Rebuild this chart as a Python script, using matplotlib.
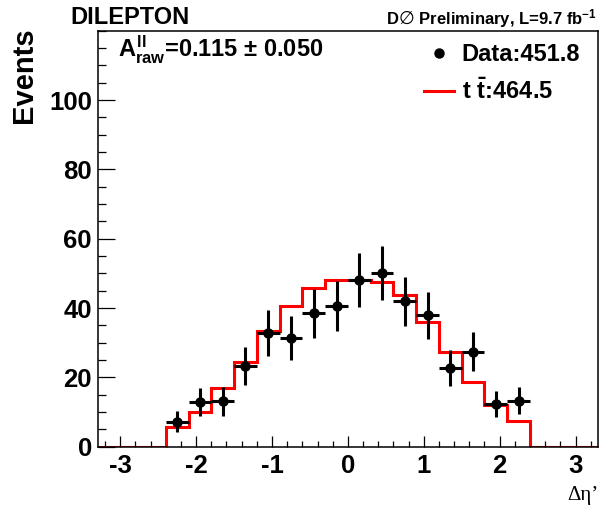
import numpy as np
import matplotlib
matplotlib.use("Agg")
import matplotlib.pyplot as plt
from matplotlib.lines import Line2D
from matplotlib.ticker import MultipleLocator

plt.rcParams['font.family'] = ['Liberation Sans', 'DejaVu Sans']
plt.rcParams['mathtext.fontset'] = 'custom'
plt.rcParams['mathtext.rm'] = 'Liberation Sans:bold'
plt.rcParams['mathtext.it'] = 'Liberation Sans:bold'
plt.rcParams['mathtext.bf'] = 'Liberation Sans:bold'

# ---- data ----
bin_edges = [-3.3, -3.0, -2.7, -2.4, -2.1, -1.8, -1.5, -1.2, -0.9, -0.6, -0.3, 0.0,
             0.3, 0.6, 0.9, 1.2, 1.5, 1.8, 2.1, 2.4, 2.7, 3.0, 3.3]
ttbar_values = [0, 0, 0, 5.8, 9.9, 16.8, 24.3, 33.3, 40.7, 45.8, 48.0,
                48.2, 47.6, 43.8, 35.9, 27.2, 18.8, 12.0, 7.3, 0, 0, 0]
data_x = [-2.25, -1.95, -1.65, -1.35, -1.05, -0.75, -0.45, -0.15,
          0.15, 0.45, 0.75, 1.05, 1.35, 1.65, 1.95, 2.25]
data_y = [7.2, 12.9, 13.1, 23.3, 32.8, 31.4, 38.5, 40.5,
          48.0, 50.1, 41.9, 37.9, 22.6, 27.4, 12.4, 13.3]
data_err = [3.1, 3.9, 4.2, 5.4, 6.5, 6.4, 7.05, 7.2,
            7.8, 7.8, 7.1, 6.8, 5.2, 5.6, 3.8, 4.0]
half_bin = 0.15
xticks = [-3, -2, -1, 0, 1, 2, 3]
yticks = [0, 20, 40, 60, 80, 100]

W, H = 610, 513
fig = plt.figure(figsize=(W / 100, H / 100), dpi=100)
ax = fig.add_axes([97.5 / W, 1 - 446.7 / H, (598.3 - 97.5) / W, (446.7 - 30.7) / H])

ax.stairs(ttbar_values, bin_edges, color='#ff0000', lw=2.2, zorder=2)
ax.errorbar(data_x, data_y, xerr=half_bin, yerr=data_err, fmt='o', color='black',
            ms=6.5, elinewidth=2.2, capsize=0, zorder=3)

ax.set_xlim(-3.3, 3.3)
ax.set_ylim(0, 120)
ax.set_xticks(xticks)
ax.set_xticklabels([str(t) for t in xticks])
ax.set_yticks(yticks)
ax.xaxis.set_minor_locator(MultipleLocator(0.2))
ax.yaxis.set_minor_locator(MultipleLocator(5))
ax.tick_params(axis='both', which='both', direction='in', top=False, right=False,
               width=0.9, labelsize=18.5)
ax.tick_params(axis='x', which='major', length=7.7, pad=5)
ax.tick_params(axis='x', which='minor', length=4)
ax.tick_params(axis='y', which='major', length=12, pad=4)
ax.tick_params(axis='y', which='minor', length=6)
for lab in ax.get_xticklabels() + ax.get_yticklabels():
    lab.set_fontweight('bold')
for s in ax.spines.values():
    s.set_linewidth(1.1)

# titles
fig.text(70 / W, 1 - 24 / H, 'DILEPTON', fontsize=17, fontweight='bold',
         ha='left', va='baseline')
renderer = fig.canvas.get_renderer()
t_right = fig.text(597 / W, 1 - 24 / H, ' Preliminary, L=9.7 fb$^{-1}$', fontsize=12,
                   fontweight='bold', ha='right', va='baseline')
bb = t_right.get_window_extent(renderer)
t_sym = fig.text(bb.x0 / W, 1 - 24 / H, '\u2205', fontsize=13,
                 family='DejaVu Sans', ha='right', va='baseline')
bb2 = t_sym.get_window_extent(renderer)
fig.text(bb2.x0 / W, 1 - 24 / H, 'D', fontsize=12, fontweight='bold',
         ha='right', va='baseline')

fig.text(24 / W, 1 - 75 / H, 'Events', fontsize=21, fontweight='bold',
         rotation=90, ha='center', va='center')
fig.text(598 / W, 1 - 500 / H, '\u0394\u03b7\u2019', fontsize=15,
         family=['Liberation Serif', 'DejaVu Serif'], ha='right', va='baseline')

fig.text(118 / W, 1 - 58 / H, '$A^{ll}_{raw}$=0.115 \u00b1 0.050', fontsize=17,
         fontweight='bold', ha='left', va='baseline')

handles = [Line2D([], [], marker='o', color='black', ls='none', ms=6.5),
           Line2D([], [], color='#ff0000', lw=2.2)]
labels = ['Data:451.8', r'$t\ \bar{t}$:464.5']
leg = ax.legend(handles, labels, loc='upper left', bbox_to_anchor=(424 / W, 1 - 43 / H),
                bbox_transform=fig.transFigure, frameon=False, handlelength=1.25,
                handletextpad=0.35, labelspacing=0.55, borderpad=0, borderaxespad=0,
                prop={'size': 17, 'weight': 'bold'})

fig.savefig('out.png', dpi=100)
